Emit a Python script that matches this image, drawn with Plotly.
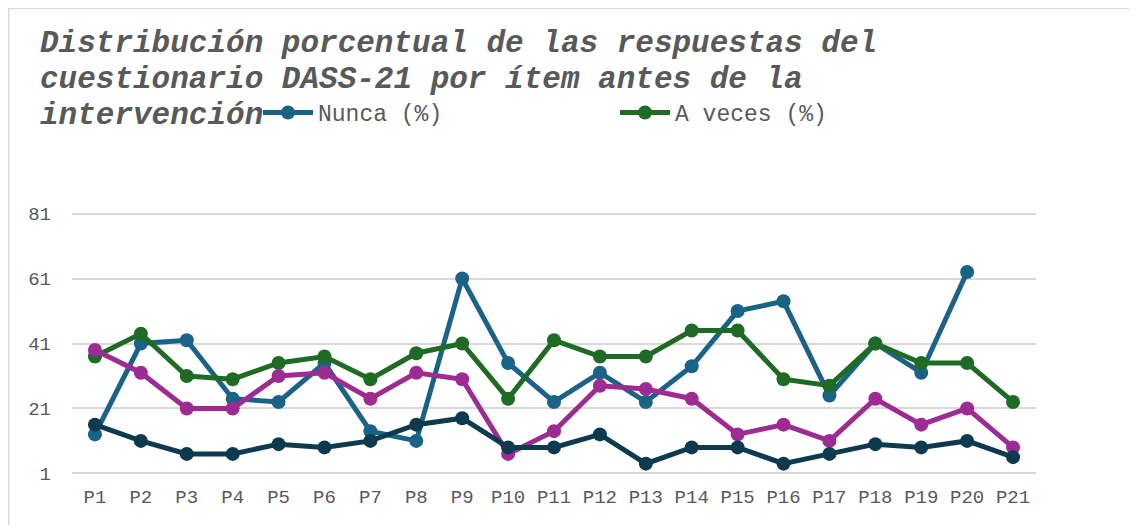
import plotly.graph_objects as go

categories = [f"P{i}" for i in range(1, 22)]
nunca = [13, 41, 42, 24, 23, 35, 14, 11, 61, 35, 23, 32, 23, 34, 51, 54, 25, 41, 32, 63, None]
a_veces = [37, 44, 31, 30, 35, 37, 30, 38, 41, 24, 42, 37, 37, 45, 45, 30, 28, 41, 35, 35, 23]
casi_siempre = [39, 32, 21, 21, 31, 32, 24, 32, 30, 7, 14, 28, 27, 24, 13, 16, 11, 24, 16, 21, 9]
siempre = [16, 11, 7, 7, 10, 9, 11, 16, 18, 9, 9, 13, 4, 9, 9, 4, 7, 10, 9, 11, 6]
y_ticks = [1, 21, 41, 61, 81]

title_lines = [
    "Distribución porcentual de las respuestas del",
    "cuestionario DASS-21 por ítem antes de la",
    "intervención",
]

series = [
    ("Nunca (%)", nunca, "#1a6387", True),
    ("A veces (%)", a_veces, "#1f6b24", True),
    ("Casi siempre (%)", casi_siempre, "#9d2b92", False),
    ("Siempre (%)", siempre, "#0e3a50", False),
]

fig = go.Figure()
for name, vals, color, show in series:
    fig.add_trace(go.Scatter(
        x=categories, y=vals, name=name, mode="lines+markers",
        line=dict(color=color, width=5),
        marker=dict(color=color, size=14),
        showlegend=show, cliponaxis=False,
    ))

mono = "Liberation Mono, Courier New, monospace"
W, H = 1129, 517
L, R, T, B = 64, 101, 204.4, 49.7
pw, ph = W - L - R, H - T - B

def px(x):
    return (x - L) / pw

def py(y):
    return (H - B - y) / ph

annotations = []
for i, line in enumerate(title_lines):
    annotations.append(dict(
        text="<b><i>" + line + "</i></b>", showarrow=False,
        xref="paper", yref="paper", x=px(30), y=py(36 + 36 * i),
        xanchor="left", yanchor="middle",
        font=dict(family=mono, size=31, color="#595959"),
    ))

fig.update_layout(
    width=W, height=H,
    margin=dict(l=L, r=R, t=T, b=B, autoexpand=False),
    paper_bgcolor="white", plot_bgcolor="white",
    annotations=annotations,
    legend=dict(orientation="h", x=px(250), y=py(105), xanchor="left", yanchor="middle",
                font=dict(family=mono, size=23, color="#595959"),
                entrywidth=292, entrywidthmode="pixels",
                bgcolor="rgba(0,0,0,0)", itemwidth=50),
    xaxis=dict(range=[-0.5, 20.5], showgrid=False, showline=False, zeroline=False,
               automargin=False,
               tickfont=dict(family=mono, size=19, color="#595959"),
               ticks="", ticklabelstandoff=8),
    yaxis=dict(range=[0.5, 81.5], tickvals=y_ticks, showgrid=True, automargin=False,
               gridcolor="#d9d9d9", gridwidth=1.5, zeroline=False, showline=False,
               tickfont=dict(family=mono, size=19, color="#595959"),
               ticks="", ticklabelstandoff=20),
    shapes=[
        dict(type="line", xref="paper", yref="paper", x0=px(0.75), x1=px(W), y0=py(0.75), y1=py(0.75),
             line=dict(color="#d9d9d9", width=1.5)),
        dict(type="line", xref="paper", yref="paper", x0=px(0.75), x1=px(0.75), y0=py(0.75), y1=py(H),
             line=dict(color="#d9d9d9", width=1.5)),
    ],
)

fig.write_html("out.html")
